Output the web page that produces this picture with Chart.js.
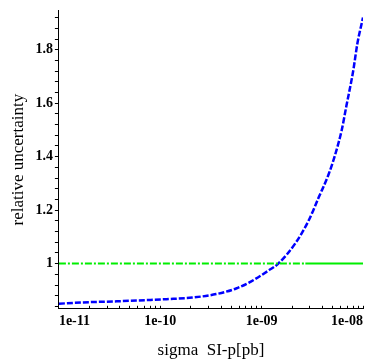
<!DOCTYPE html>
<html>
<head>
<meta charset="utf-8">
<script src="https://cdn.jsdelivr.net/npm/chart.js@4"></script>
<style>
  html, body { margin: 0; padding: 0; background: #fff; }
  #wrap { width: 380px; height: 359px; }
</style>
</head>
<body>
<div id="wrap"><canvas id="chart"></canvas></div>
<script>
// sigma SI-p [pb] vs relative uncertainty
const sigmaValues = [1e-11, 1.73e-11, 3.73e-11, 7.86e-11, 1.15e-10, 2.07e-10, 3.56e-10, 5.6e-10, 7.5e-10,
                     1.18e-9, 1.46e-9, 2.15e-9, 2.91e-9, 3.65e-9, 4.57e-9, 5.31e-9, 6.17e-9, 6.86e-9,
                     8.03e-9, 8.79e-9, 1e-8];
const uncertainty = [0.850, 0.855, 0.859, 0.864, 0.867, 0.873, 0.886, 0.907, 0.929,
                     0.975, 1.0, 1.076, 1.161, 1.247, 1.333, 1.407, 1.50, 1.59,
                     1.724, 1.822, 1.92];

// reference line at 1 (dash-dot part then solid part)
const refSigma = [1e-11, 2.7e-9, 1e-8];
const refValues = [1, 1, 1];

const xTickLabels = [1e-11, 1e-10, 1e-9, 1e-8];
const xLabelText = ["1e-11", "1e-10", "1e-09", "1e-08"];
const yTickLabels = [1, 1.2, 1.4, 1.6, 1.8];

const toPoints = (xs, ys) => xs.map((x, i) => ({ x: x, y: ys[i] }));

// minor ticks
function xTicksAll() {
    const out = [];
    for (let e = -11; e < -8; e++) {
        for (let m = 1; m < 10; m++) out.push({ value: m * Math.pow(10, e) });
    }
    out.push({ value: 1e-8 });
    return out;
}
function yTicksAll() {
    const out = [];
    for (let v = 84; v <= 192; v += 4) out.push({ value: v / 100 });
    return out;
}

const serif = "'Liberation Serif', 'DejaVu Serif', serif";

new Chart(document.getElementById("chart"), {
    type: "line",
    data: {
        datasets: [
            {
                data: toPoints(refSigma, refValues),
                borderColor: "#00ee00",
                borderWidth: 2,
                pointRadius: 0,
                fill: false,
                segment: { borderDash: c => c.p0DataIndex === 0 ? [7, 2, 2, 2] : [] }
            },
            {
                data: toPoints(sigmaValues, uncertainty),
                borderColor: "#0000ff",
                borderWidth: 2.5,
                borderDash: [6, 2],
                pointRadius: 0,
                cubicInterpolationMode: "monotone",
                fill: false
            }
        ]
    },
    options: {
        responsive: true,
        maintainAspectRatio: false,
        animation: false,
        layout: { padding: { top: 6, right: 17, left: 0, bottom: 0 } },
        plugins: { legend: { display: false }, tooltip: { enabled: false } },
        scales: {
            x: {
                type: "logarithmic",
                min: 1e-11,
                max: 1e-8,
                afterBuildTicks: s => { s.ticks = xTicksAll(); },
                grid: { display: true, drawOnChartArea: false, drawTicks: true, tickLength: -3, color: "#000" },
                border: { display: true, color: "#000", width: 1 },
                ticks: {
                    autoSkip: false,
                    maxRotation: 0,
                    align: "inner",
                    color: "#000",
                    padding: 7,
                    font: { family: serif, size: 14, weight: "bold" },
                    callback: v => {
                        const i = xTickLabels.findIndex(t => Math.abs(t - v) / t < 1e-6);
                        return i >= 0 ? xLabelText[i] : "";
                    }
                },
                title: {
                    display: true,
                    text: "sigma  SI-p[pb]",
                    color: "#000",
                    font: { family: serif, size: 17 },
                    padding: { top: 4, bottom: -2 }
                }
            },
            y: {
                min: 0.831,
                max: 1.947,
                afterBuildTicks: s => { s.ticks = yTicksAll(); },
                grid: { display: true, drawOnChartArea: false, drawTicks: true, tickLength: 4, color: "#000" },
                border: { display: true, color: "#000", width: 1 },
                ticks: {
                    autoSkip: false,
                    color: "#000",
                    padding: 2,
                    font: { family: serif, size: 14, weight: "bold" },
                    callback: v => {
                        const hit = yTickLabels.find(t => Math.abs(t - v) < 1e-6);
                        return hit !== undefined ? String(hit) : "";
                    }
                },
                title: {
                    display: true,
                    text: "relative uncertainty",
                    color: "#000",
                    font: { family: serif, size: 17 },
                    padding: { top: 8, bottom: 5 }
                }
            }
        }
    }
});
</script>
</body>
</html>
